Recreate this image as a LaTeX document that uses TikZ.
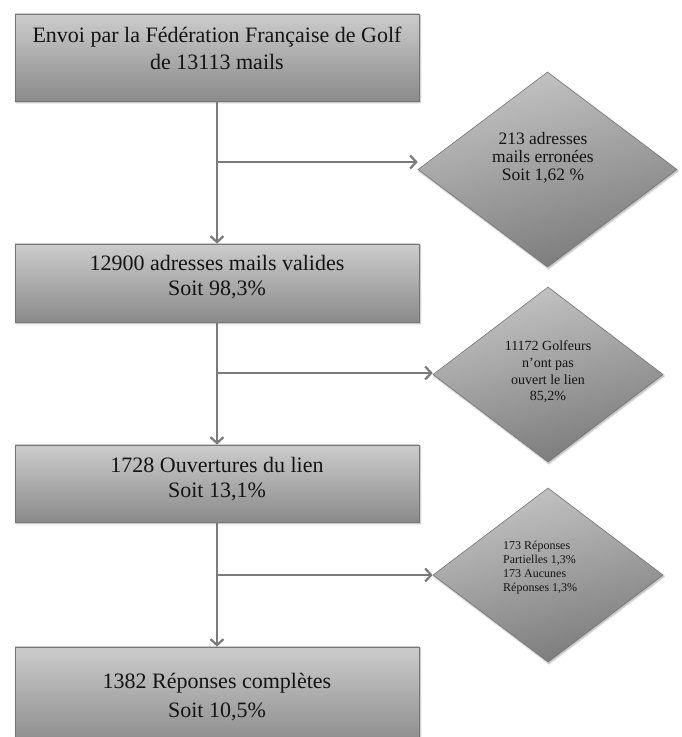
\documentclass[tikz,border=0pt]{standalone}
\usepackage{fontspec}
\setmainfont{Liberation Serif}
\usetikzlibrary{shapes.geometric,arrows.meta,shadows.blur}
\definecolor{boxtop}{RGB}{204,204,204}
\definecolor{boxbot}{RGB}{138,138,138}
\definecolor{diatop}{RGB}{196,196,196}
\definecolor{diabot}{RGB}{122,122,122}
\definecolor{edgegray}{RGB}{118,118,118}
\definecolor{linegray}{RGB}{122,122,122}
\definecolor{txt}{RGB}{20,20,20}
\tikzset{
  stepbox/.style={rectangle, draw=edgegray, line width=0.8pt, minimum width=404pt,
    top color=boxtop, bottom color=boxbot, inner sep=0pt,
    blur shadow={shadow xshift=1pt, shadow yshift=-1.5pt, shadow blur steps=6, shadow opacity=35}},
  decision/.style={diamond, draw=edgegray, line width=0.6pt, inner sep=0pt,
    top color=diatop, bottom color=diabot, shading angle=15,
    blur shadow={shadow xshift=1pt, shadow yshift=-1.5pt, shadow blur steps=6, shadow opacity=35}},
  boxtext/.style={align=center, text=txt, inner sep=0pt, font=\fontsize{22}{26}\selectfont},
  flow/.style={draw=linegray, line width=2.4pt, -{Straight Barb[length=6pt,width=13pt,line width=2.2pt]}},
  branch/.style={draw=linegray, line width=2.4pt}
}
\begin{document}
\begin{tikzpicture}[x=1pt,y=1pt]
\useasboundingbox (0,0) rectangle (681,737);
\clip (0,0) rectangle (681,737);
% boxes
\node[stepbox, minimum height=87pt] (b1) at (217,679.5) {};
\node[stepbox, minimum height=78pt] (b2) at (217,454) {};
\node[stepbox, minimum height=77pt] (b3) at (217,253.5) {};
\node[stepbox, minimum height=100pt] (b4) at (217,40) {};
\node[boxtext, font=\fontsize{22}{27}\selectfont] (t1) at (217,688.5) {Envoi par la Fédération Française de Golf\\de 13113 mails};
\node[boxtext, font=\fontsize{22}{25}\selectfont] (t2) at (217,459.5) {12900 adresses mails valides\\Soit 98,3\%};
\node[boxtext, font=\fontsize{22}{25}\selectfont] (t3) at (217,257.5) {1728 Ouvertures du lien\\Soit 13,1\%};
\node[boxtext, font=\fontsize{22}{29}\selectfont] (t4) at (217,39.5) {1382 Réponses complètes\\Soit 10,5\%};
% diamonds
\node[decision, minimum width=259pt, minimum height=195pt] (d1) at (547.5,567.5) {};
\node[decision, minimum width=230pt, minimum height=175pt] (d2) at (548,362.5) {};
\node[decision, minimum width=230pt, minimum height=174pt] (d3) at (548,162) {};
\node[boxtext, font=\fontsize{17.5}{18}\selectfont] (l1) at (543,579) {213 adresses\\mails erronées\\Soit 1,62 \%};
\node[boxtext, font=\fontsize{14}{16.7}\selectfont] (l2) at (548,365) {11172 Golfeurs\\n\symbol{39}ont pas\\ouvert le lien\\85,2\%};
\node[boxtext, align=left, anchor=west, font=\fontsize{12}{14}\selectfont] (l3) at (503,169) {173 Réponses\\Partielles 1,3\%\\173 Aucunes\\Réponses 1,3\%};
% connectors
\coordinate (c1) at (217,575);
\coordinate (c2) at (217,364);
\coordinate (c3) at (217,162);
\draw[flow] (b1.south) -- (b2.north);
\draw[flow] (b2.south) -- (b3.north);
\draw[flow] (b3.south) -- (b4.north);
\draw[flow] (c1) -- (c1 -| d1.west);
\draw[flow] (c2) -- (c2 -| d2.west);
\draw[flow] (c3) -- (c3 -| d3.west);
\end{tikzpicture}
\end{document}
